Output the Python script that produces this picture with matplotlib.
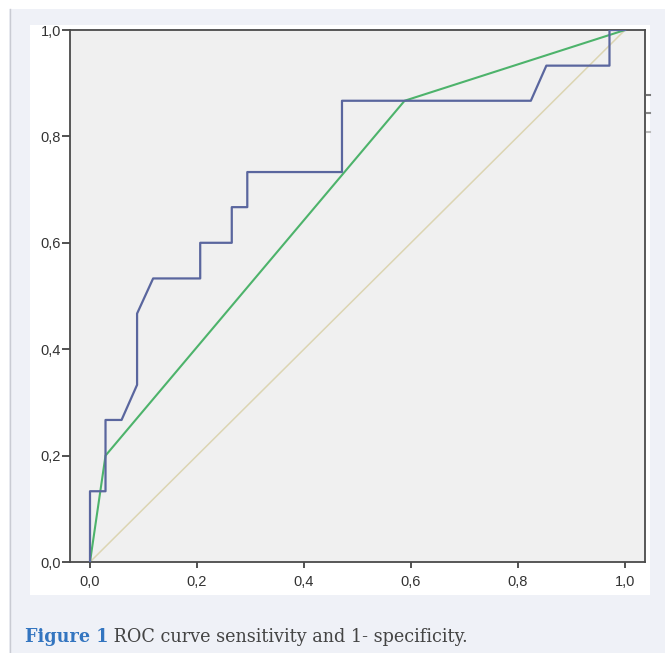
import matplotlib
matplotlib.use("Agg")
import matplotlib.pyplot as plt
from matplotlib.patches import Rectangle
from matplotlib.lines import Line2D

# ROC curve (blue): 1-specificity vs sensitivity
roc_x = [0.0, 0.0, 0.029, 0.029, 0.059, 0.088, 0.088, 0.118, 0.206, 0.206, 0.265, 0.265,
         0.294, 0.294, 0.471, 0.471, 0.824, 0.853, 0.971, 0.971, 1.0]
roc_y = [0.0, 0.133, 0.133, 0.267, 0.267, 0.333, 0.467, 0.533, 0.533, 0.600, 0.600, 0.667,
         0.667, 0.733, 0.733, 0.867, 0.867, 0.933, 0.933, 1.0, 1.0]
# Second curve (green)
green_x = [0.0, 0.029, 0.588, 1.0]
green_y = [0.0, 0.200, 0.867, 1.0]
# Reference diagonal
ref_x = [0.0, 1.0]
ref_y = [0.0, 1.0]

ticks = [0.0, 0.2, 0.4, 0.6, 0.8, 1.0]
tick_labels = ["0,0", "0,2", "0,4", "0,6", "0,8", "1,0"]

W, H = 665, 653
fig = plt.figure(figsize=(W / 100, H / 100), dpi=100)
fig.patch.set_facecolor("white")

# outer page panel
fig.add_artist(Rectangle((9 / W, 0), 1, (H - 9) / H, transform=fig.transFigure,
                         facecolor="#eff1f7", edgecolor="none", zorder=0))
fig.add_artist(Line2D([9.5 / W, 9.5 / W], [0, (H - 9) / H], transform=fig.transFigure,
                      color="#c9cbd3", lw=1.0, zorder=1))
# white image region
fig.add_artist(Rectangle((30 / W, (H - 595) / H), 620 / W, 570 / H, transform=fig.transFigure,
                         facecolor="white", edgecolor="none", zorder=1))

ax = fig.add_axes([70 / W, (H - 562) / H, 575 / W, 532 / H])
ax.set_zorder(2)
ax.set_facecolor("#f0f0f0")

ax.plot(ref_x, ref_y, color="#dcd5b2", lw=1.1, zorder=2)
ax.plot(green_x, green_y, color="#4db36b", lw=1.5, zorder=3)
ax.plot(roc_x, roc_y, color="#5a669e", lw=1.6, zorder=4)

ax.set_xlim(-20 / 535, 1 + 20 / 535)
ax.set_ylim(0, 1)
ax.set_xticks(ticks)
ax.set_xticklabels(tick_labels)
ax.set_yticks(ticks)
ax.set_yticklabels(tick_labels)

for s in ax.spines.values():
    s.set_color("#4a4a4a")
    s.set_linewidth(1.3)
ax.tick_params(axis="both", direction="out", color="#333333", width=1.2,
               labelcolor="#333333", labelsize=10.5)
ax.tick_params(axis="y", length=5.5, pad=1)
ax.tick_params(axis="x", length=4, pad=5)
for lab in ax.get_xticklabels() + ax.get_yticklabels():
    lab.set_fontfamily("Liberation Sans")

# small cropped legend remnants at right edge
for yy, c in [(95, "#777777"), (113, "#888888"), (132, "#bbbbbb")]:
    fig.add_artist(Line2D([647 / W, 650 / W], [(H - yy) / H, (H - yy) / H],
                          transform=fig.transFigure, color=c, lw=1.5, zorder=3))

# caption
t1 = fig.text(25 / W, (H - 642) / H, "Figure 1", fontsize=12.7, fontweight="bold",
              color="#3375c0", family="DejaVu Serif", va="baseline", ha="left")
ax.annotate(" ROC curve sensitivity and 1- specificity.", xy=(1, 0), xycoords=t1,
            va="bottom", ha="left", fontsize=12.7, color="#444444",
            family="DejaVu Serif", annotation_clip=False)

fig.savefig("out.png", dpi=100)
